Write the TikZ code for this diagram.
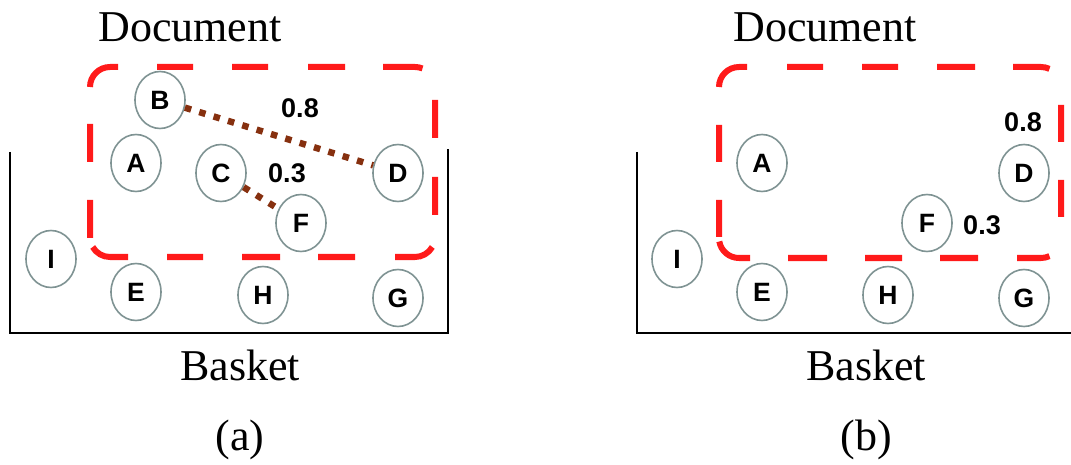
\documentclass[tikz,border=0pt]{standalone}
\usepackage{fontspec}
\setmainfont{Liberation Serif}
\newfontfamily\lsans{Liberation Sans}
\usetikzlibrary{shapes.geometric}
\definecolor{boxred}{HTML}{FF1A1A}
\definecolor{ringgray}{HTML}{7F9393}
\definecolor{linkbrown}{HTML}{86300F}
\tikzset{
  item/.style={ellipse, draw=ringgray, line width=1.6pt, minimum width=50pt, minimum height=57pt, inner sep=0pt, font=\lsans\bfseries\fontsize{26.5}{26.5}\selectfont},
  weight/.style={font=\lsans\bfseries\fontsize{27}{27}\selectfont, inner sep=0pt},
  caption/.style={font=\fontsize{44}{44}\selectfont, anchor=base, inner sep=0pt},
  docbox/.style={draw=boxred, line width=6pt, line cap=butt},
  basketline/.style={draw=black, line width=2pt},
  link/.style={draw=linkbrown, line width=6.5pt, dash pattern=on 6.5pt off 8.5pt}
}
\begin{document}
\begin{tikzpicture}[x=1pt,y=-1pt]
\useasboundingbox (0,0) rectangle (1071,465);
% ---------- panel (a)
\coordinate (a1) at (10,152);
\coordinate (a2) at (10,333);
\coordinate (a3) at (448,333);
\coordinate (a4) at (448,149);
\draw[basketline] (a1) -- (a2) -- (a3) -- (a4);
% dashed rounded box (a): left 90, right 435, top 67, bottom 257, radius 20
\draw[docbox]
  (90,87) arc[start angle=180, end angle=270, radius=20] -- (118,67)
  (157,67) -- (193,67) (232,67) -- (268,67) (308,67) -- (345,67)
  (383,67) -- (415,67) arc[start angle=270, end angle=292, radius=20]
  (435,100) -- (435,138) (435,177) -- (435,215)
  (432.3,247) arc[start angle=30, end angle=90, radius=20] -- (395,257)
  (355,257) -- (318,257) (280,257) -- (242,257) (203,257) -- (167,257)
  (128,257) -- (110,257) arc[start angle=90, end angle=150, radius=20]
  (90,238) -- (90,200) (90,162) -- (90,124);
\node[item] (aB) at (160,100) {B};
\node[item] (aA) at (136,163) {A};
\node[item] (aC) at (221,173) {C};
\node[item] (aD) at (398,173) {D};
\node[item] (aF) at (301,223) {F};
\node[item] (aI) at (51,259) {I};
\node[item] (aE) at (136,292) {E};
\node[item] (aH) at (263,295) {H};
\node[item] (aG) at (398,298) {G};
\draw[link] (aB) -- (aD);
\draw[link] (aC) -- (aF);
\node[weight] (aw8) at (300,108) {0.8};
\node[weight] (aw3) at (287,173) {0.3};
\node[caption] (adoc) at (190,42) {Document};
\node[caption] (abas) at (240,380) {Basket};
\node[caption] (alab) at (240,450) {(a)};
% ---------- panel (b)
\coordinate (b1) at (637,152);
\coordinate (b2) at (637,333);
\coordinate (b3) at (1071,333);
\draw[basketline] (b1) -- (b2) -- (b3);
% dashed rounded box (b): left 719, right 1061, top 67, bottom 258, radius 20
\draw[docbox]
  (719,87) arc[start angle=180, end angle=270, radius=20] -- (747,67)
  (787,67) -- (823,67) (862,67) -- (898,67) (937,67) -- (975,67)
  (1013,67) -- (1041,67) arc[start angle=270, end angle=295, radius=20]
  (1061,105) -- (1061,142) (1061,180) -- (1061,217)
  (1017,258) -- (1041,258) arc[start angle=90, end angle=65, radius=20]
  (978,258) -- (940,258) (902,258) -- (865,258) (827,258) -- (788,258)
  (750,258) -- (739,258) arc[start angle=90, end angle=170, radius=20]
  (719,237) -- (719,200) (719,162) -- (719,125);
\node[item] (bA) at (762,163) {A};
\node[item] (bD) at (1024,173) {D};
\node[item] (bF) at (927,223) {F};
\node[item] (bI) at (677,259) {I};
\node[item] (bE) at (762,292) {E};
\node[item] (bH) at (888,295) {H};
\node[item] (bG) at (1024,298) {G};
\node[weight] (bw8) at (1023,122) {0.8};
\node[weight] (bw3) at (982,225) {0.3};
\node[caption] (bdoc) at (825,42) {Document};
\node[caption] (bbas) at (866,380) {Basket};
\node[caption] (blab) at (866,450) {(b)};
\end{tikzpicture}
\end{document}
